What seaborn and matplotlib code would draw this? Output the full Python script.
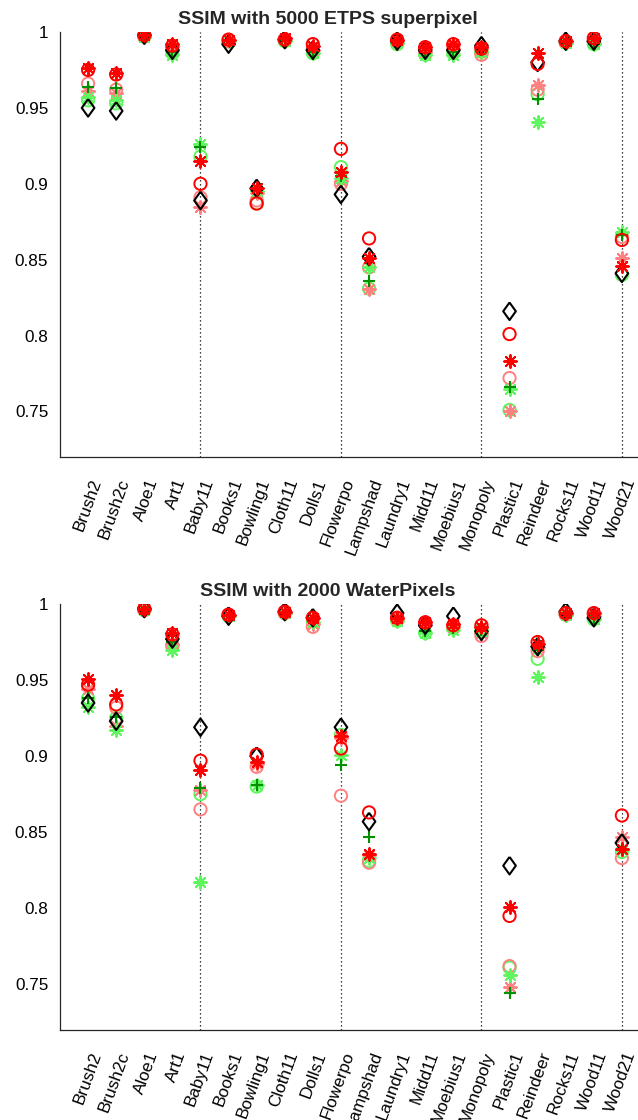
import numpy as np
import pandas as pd
import matplotlib
matplotlib.use("Agg")
import matplotlib.pyplot as plt
import matplotlib.transforms as mtransforms
from matplotlib.ticker import MultipleLocator, FixedLocator, FuncFormatter
import seaborn as sns

# ---------------- data ----------------
categories = ["Brush2", "Brush2c", "Aloe1", "Art1", "Baby11", "Books1", "Bowling1",
              "Cloth11", "Dolls1", "Flowerpo", "Lampshad", "Laundry1", "Midd11",
              "Moebius1", "Monopoly", "Plastic1", "Reindeer", "Rocks11", "Wood11", "Wood21"]
group_starts = ["Baby11", "Flowerpo", "Monopoly", "Wood21"]

titles = ["SSIM with 5000 ETPS superpixel", "SSIM with 2000 WaterPixels"]
yticks = [0.75, 0.8, 0.85, 0.9, 0.95, 1.0]

# top panel (ETPS)
etps_diamond = [0.950, 0.948, 0.998, 0.988, 0.889, 0.992, 0.897, 0.995, 0.988, 0.893,
                0.852, 0.994, 0.988, 0.988, 0.991, 0.816, 0.980, 0.994, 0.994, 0.841]
etps_red_o = [0.975, 0.972, 0.998, 0.991, 0.900, 0.995, 0.887, 0.995, 0.992, 0.923,
              0.864, 0.995, 0.990, 0.992, 0.989, 0.801, 0.979, 0.994, 0.996, 0.863]
etps_pink_o = [0.966, 0.962, 0.997, 0.989, 0.891, 0.994, 0.889, 0.995, 0.989, 0.900,
               0.845, 0.994, 0.988, 0.990, 0.985, 0.772, 0.962, 0.993, 0.994, 0.865]
etps_red_ast = [0.976, 0.973, 0.998, 0.992, 0.915, 0.995, 0.897, 0.996, 0.991, 0.908,
                0.851, 0.995, 0.990, 0.992, 0.990, 0.783, 0.986, 0.994, 0.996, 0.846]
etps_pink_ast = [0.961, 0.960, 0.997, 0.988, 0.885, 0.994, 0.894, 0.995, 0.988, 0.902,
                 0.831, 0.993, 0.987, 0.989, 0.986, 0.750, 0.965, 0.993, 0.993, 0.851]
etps_green_plus = [0.964, 0.963, 0.997, 0.987, 0.924, 0.994, 0.896, 0.995, 0.987, 0.905,
                   0.836, 0.993, 0.986, 0.987, 0.988, 0.766, 0.956, 0.993, 0.992, 0.866]
etps_lgreen_o = [0.955, 0.953, 0.997, 0.986, 0.918, 0.994, 0.887, 0.994, 0.986, 0.911,
                 0.831, 0.992, 0.985, 0.986, 0.987, 0.751, 0.959, 0.993, 0.992, 0.840]
etps_lgreen_ast = [0.957, 0.955, 0.997, 0.985, 0.926, 0.994, 0.895, 0.994, 0.986, 0.904,
                   0.845, 0.993, 0.985, 0.985, 0.987, 0.765, 0.941, 0.993, 0.992, 0.868]

# bottom panel (WaterPixels)
wp_diamond = [0.935, 0.923, 0.997, 0.977, 0.919, 0.992, 0.900, 0.995, 0.991, 0.919,
              0.857, 0.994, 0.986, 0.992, 0.982, 0.828, 0.972, 0.995, 0.991, 0.843]
wp_red_o = [0.947, 0.934, 0.997, 0.980, 0.897, 0.993, 0.901, 0.995, 0.991, 0.905,
            0.863, 0.991, 0.988, 0.986, 0.986, 0.795, 0.975, 0.994, 0.994, 0.861]
wp_pink_o = [0.946, 0.932, 0.996, 0.973, 0.865, 0.993, 0.893, 0.994, 0.985, 0.874,
             0.830, 0.990, 0.987, 0.985, 0.979, 0.762, 0.969, 0.993, 0.993, 0.833]
wp_red_ast = [0.951, 0.940, 0.997, 0.981, 0.891, 0.993, 0.896, 0.995, 0.991, 0.913,
              0.836, 0.991, 0.988, 0.987, 0.985, 0.801, 0.974, 0.994, 0.994, 0.839]
wp_pink_ast = [0.944, 0.920, 0.996, 0.974, 0.878, 0.992, 0.895, 0.994, 0.987, 0.912,
               0.835, 0.990, 0.986, 0.985, 0.981, 0.748, 0.972, 0.993, 0.992, 0.847]
wp_green_plus = [0.938, 0.926, 0.996, 0.975, 0.879, 0.992, 0.881, 0.994, 0.989, 0.894,
                 0.847, 0.990, 0.982, 0.984, 0.983, 0.744, 0.970, 0.993, 0.991, 0.838]
wp_lgreen_o = [0.938, 0.925, 0.996, 0.972, 0.875, 0.992, 0.880, 0.994, 0.989, 0.914,
               0.831, 0.989, 0.981, 0.984, 0.983, 0.761, 0.964, 0.993, 0.990, 0.837]
wp_lgreen_ast = [0.932, 0.917, 0.996, 0.970, 0.817, 0.992, 0.881, 0.994, 0.988, 0.901,
                 0.833, 0.989, 0.981, 0.983, 0.982, 0.756, 0.952, 0.993, 0.990, 0.838]

panels = [
    {"lgreen_o": etps_lgreen_o, "pink_ast": etps_pink_ast, "pink_o": etps_pink_o,
     "lgreen_ast": etps_lgreen_ast, "green_plus": etps_green_plus, "diamond": etps_diamond,
     "red_o": etps_red_o, "red_ast": etps_red_ast},
    {"lgreen_o": wp_lgreen_o, "pink_ast": wp_pink_ast, "pink_o": wp_pink_o,
     "lgreen_ast": wp_lgreen_ast, "green_plus": wp_green_plus, "diamond": wp_diamond,
     "red_o": wp_red_o, "red_ast": wp_red_ast},
]

# ---------------- styles ----------------
RED = "#ff0000"
PINK = "#ff8080"
DGREEN = "#009000"
LGREEN = "#5ff55f"
asterisk = (8, 2, 0)
diamond = [(0, 1), (0.72, 0), (0, -1), (-0.72, 0), (0, 1)]
styles = {
    "lgreen_o":   dict(marker="o", s=78, facecolor="none", edgecolor=LGREEN, linewidth=1.4),
    "pink_ast":   dict(marker=asterisk, s=85, color=PINK, linewidth=1.4),
    "pink_o":     dict(marker="o", s=78, facecolor="none", edgecolor=PINK, linewidth=1.4),
    "lgreen_ast": dict(marker=asterisk, s=85, color=LGREEN, linewidth=1.4),
    "green_plus": dict(marker="+", s=85, color=DGREEN, linewidth=1.5),
    "diamond":    dict(marker=diamond, s=160, facecolor="none", edgecolor="black", linewidth=1.5),
    "red_o":      dict(marker="o", s=78, facecolor="none", edgecolor=RED, linewidth=1.4),
    "red_ast":    dict(marker=asterisk, s=85, color=RED, linewidth=1.4),
}

sns.set_style("white")
plt.rcParams["font.family"] = ["Liberation Sans", "DejaVu Sans"]

W, H = 638, 1120
fig = plt.figure(figsize=(W / 100, H / 100), dpi=100)

x_left, x_right = 60, 650
axes_rows = [(32, 457), (604, 1030)]
xpos = np.arange(1, len(categories) + 1)

for p, (top, bot) in enumerate(axes_rows):
    ax = fig.add_axes([x_left / W, 1 - bot / H, (x_right - x_left) / W, (bot - top) / H])
    for z, (name, vals) in enumerate(panels[p].items()):
        df = pd.DataFrame({"x": xpos, "y": vals})
        sns.scatterplot(data=df, x="x", y="y", ax=ax, zorder=3 + z, legend=False,
                        **styles[name])
    for g in group_starts:
        ax.axvline(categories.index(g) + 1, color="black", linestyle=(0, (1, 2.2)),
                   linewidth=0.9, zorder=1)

    ax.set_xlim(0, len(categories) + 1)
    ax.set_ylim(0.72, 1.0)
    ax.set_xlabel("")
    ax.set_ylabel("")
    for side in ["top", "right"]:
        ax.spines[side].set_visible(False)
    for side in ["left", "bottom"]:
        ax.spines[side].set_color("#262626")
        ax.spines[side].set_linewidth(0.9)

    ax.yaxis.set_major_locator(FixedLocator(yticks))
    ax.yaxis.set_major_formatter(FuncFormatter(lambda v, pos: f"{v:g}"))
    ax.yaxis.set_minor_locator(MultipleLocator(0.002))
    ax.tick_params(axis="y", which="major", direction="in", length=4.5, width=0.8,
                   colors="#262626", labelcolor="black", labelsize=12.3, pad=8.5)
    ax.tick_params(axis="y", which="minor", direction="out", length=1.3, width=0.6,
                   colors="#444444")
    ax.set_xticks(xpos)
    ax.set_xticklabels(categories, rotation=70, rotation_mode="anchor",
                       ha="right", va="center")
    ax.tick_params(axis="x", which="major", direction="in", length=4.5, width=0.8,
                   colors="#262626", labelcolor="black", labelsize=12.3, pad=16)
    offset = mtransforms.ScaledTranslation(9 / 100, 0, fig.dpi_scale_trans)
    for lab in ax.get_xticklabels():
        lab.set_transform(lab.get_transform() + offset)

    ax.set_title(titles[p], fontsize=14, fontweight="bold", x=(327.5 - x_left) / (x_right - x_left),
                 pad=6)

fig.savefig("out.png", dpi=100)
